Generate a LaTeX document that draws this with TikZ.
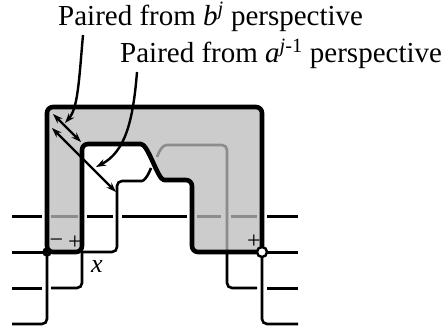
\documentclass[tikz,border=0pt]{standalone}
\usepackage{fontspec}
\setmainfont{Liberation Serif}
\usetikzlibrary{arrows.meta}
\definecolor{regionfill}{gray}{0.8}
\definecolor{linegray}{gray}{0.55}
\begin{document}
\begin{tikzpicture}[x=1pt,y=-1pt,
  thin strand/.style={line width=2.6pt, rounded corners=5pt},
  levelline/.style={line width=3pt},
  graylevel/.style={line width=3pt, draw=linegray},
  graystrand/.style={line width=2.6pt, draw=linegray, rounded corners=5pt},
  boundary/.style={line width=4.6pt, line join=round, rounded corners=6pt},
  pairarrow/.style={line width=2.4pt, {Stealth[length=10pt,width=7pt]}-{Stealth[length=10pt,width=7pt]}},
  leader/.style={line width=2.4pt, -{Stealth[length=10pt,width=7pt]}},
  lbl/.style={font=\fontsize{29}{31}\selectfont, inner sep=0pt, anchor=base west},
  signlbl/.style={font=\fontsize{24}{26}\selectfont, inner sep=0pt},
  xlbl/.style={font=\fontsize{26}{28}\selectfont\itshape, inner sep=0pt}
]
\useasboundingbox (0,0) rectangle (442,330);

% shaded region
\fill[regionfill, rounded corners=6pt] (47,252) -- (47,107) -- (262,107) -- (262,252) -- (192,252) -- (192,180) -- (170,180) .. controls (158,180) and (148,144) .. (135,144) -- (82,144) -- (82,252) -- cycle;

% level 1 (passes under everything)
\draw[levelline] (12,216) -- (42,216);
\draw[graylevel] (51,216) -- (78,216);
\draw[levelline] (87,216) -- (113,216);
\draw[levelline] (122,216) -- (187,216);
\draw[graylevel] (197,216) -- (221,216);
\draw[graylevel] (231,216) -- (257,216);
\draw[levelline] (267,216) -- (298,216);

% a-strand
\draw[thin strand] (82,252) -- (117,252) -- (117,181) -- (137,181) .. controls (144,181) and (148,176) .. (151,168);
\draw[graystrand] (157,157) .. controls (160,149) and (163,145) .. (172,145) -- (227,145) -- (227,252);
\draw[thin strand] (227,252) -- (227,288) -- (257,288);
\draw[levelline] (267,288) -- (298,288);

% left strands
\draw[levelline] (12,252) -- (47,252);
\draw[levelline] (12,288) -- (42,288);
\draw[thin strand] (51,288) -- (82,288) -- (82,252);
\draw[thin strand] (12,324) -- (47,324) -- (47,252);

% right strands
\draw[levelline] (262,252) -- (298,252);
\draw[thin strand] (262,252) -- (262,324) -- (298,324);

% region boundary
\draw[boundary] (47,252) -- (47,107) -- (262,107) -- (262,252) -- (192,252) -- (192,180) -- (170,180) .. controls (158,180) and (148,144) .. (135,144) -- (82,144) -- (82,252) -- cycle;

% endpoints
\node[circle, fill=black, inner sep=0pt, minimum size=9.5pt] (dotl) at (47,252) {};
\node[circle, fill=white, draw=black, line width=2.4pt, inner sep=0pt, minimum size=10pt] (dotr) at (262,252) {};

% signs and x
\node[signlbl] (minus) at (56.5,243.5) {−};
\node[signlbl] (plusl) at (75,242.5) {+};
\node[signlbl] (plusr) at (254,241.5) {+};
\node[xlbl] (xl) at (97,267) {x};

% pairing arrows
\coordinate (s1a) at (53,114);
\coordinate (s1b) at (81,142);
\coordinate (s2a) at (52,128);
\coordinate (s2b) at (116,192);
\draw[pairarrow] (s1a) -- (s1b);
\draw[pairarrow] (s2a) -- (s2b);

% labels
\node[lbl] (t1) at (58,25) {Paired from {\itshape b}\textsuperscript{\itshape j} perspective};
\node[lbl] (t2) at (120,62) {Paired from {\itshape a}\textsuperscript{{\itshape j}-1} perspective};

\coordinate (l1s) at (83,35);
\coordinate (l1e) at (65,123);
\coordinate (l2s) at (137,72);
\coordinate (l2e) at (96,167);
\draw[leader] (l1s) .. controls (79,80) and (78,108) .. (l1e);
\draw[leader] (l2s) .. controls (133,122) and (125,152) .. (l2e);
\end{tikzpicture}
\end{document}
